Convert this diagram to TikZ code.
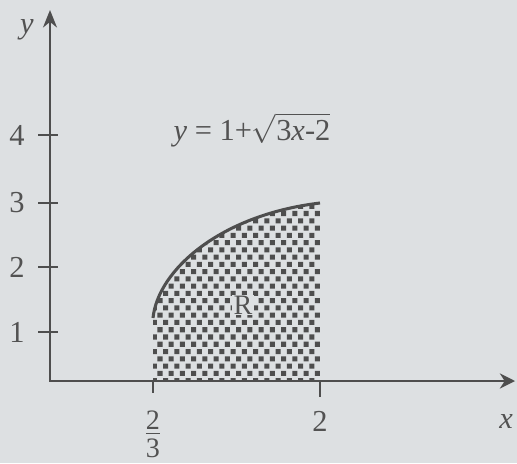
\documentclass[tikz,border=0pt]{standalone}
\usepackage{amsmath}
\usepackage{fontspec}
\setmainfont{Liberation Serif}
\usetikzlibrary{arrows.meta,patterns,positioning}
\definecolor{paper}{RGB}{221,224,226}
\definecolor{ink}{RGB}{78,78,78}
\definecolor{inktext}{RGB}{82,82,82}
\pgfdeclarepatternformonly{squaredots}{\pgfqpoint{-1pt}{-1pt}}{\pgfqpoint{11pt}{14pt}}{\pgfqpoint{9.6pt}{12.4pt}}{%
    \pgfpathrectangle{\pgfqpoint{0pt}{0pt}}{\pgfqpoint{4.3pt}{4.3pt}}
    \pgfpathrectangle{\pgfqpoint{4.8pt}{6.2pt}}{\pgfqpoint{4.3pt}{4.3pt}}
    \pgfusepath{fill}}
\begin{document}
\begin{tikzpicture}[x=0.03cm,y=0.03cm,
        axis/.style={ink,line width=1.6pt},
        lbl/.style={inktext,font=\fontsize{26}{28}\selectfont}]
        \fill[paper] (0,0) rectangle (517,463);
        \useasboundingbox (0,0) rectangle (517,463);
        \coordinate (O) at (50,82);
        \coordinate (X) at (515,82);
        \coordinate (Y) at (50,453);
        \coordinate (A) at (153,82);
        \coordinate (B) at (320,82);
        \coordinate (C) at (153,145);
        \coordinate (D) at (320,260);
        \fill[pattern=squaredots,pattern color=ink] (A) -- (C) .. controls (158,193) and (220,248) .. (D) -- (B) -- cycle;
        \draw[ink,line width=2.6pt] (C) .. controls (158,193) and (220,248) .. (D);
        \draw[axis,{Stealth[length=15pt,width=12pt]}-{Stealth[length=13pt,width=13pt]}] (Y) -- (O) -- (X);
        \foreach \h [count=\i] in {131,196,260,328}{%
        \node[lbl] (t\i) at (17,\h) {\i};
        \draw[axis] (38,\h) -- (58,\h);
        }
        \draw[axis] (A) -- ++(0,-12);
        \draw[axis] (B) -- ++(0,-16);
        \node[lbl,font=\fontsize{24}{26}\selectfont,align=center,inner sep=0pt] (xa) at (153,29) {\underline{2}\\[-2pt]3};
        \node[lbl] (xb) at (320,42) {2};
        \node[lbl] (xl) at (506,41) {\textit{x}};
        \node[lbl] (yl) at (27,433) {\textit{y}};
        \node[lbl,anchor=base] (eq) at (252,323) {\textit{y} = 1+$\sqrt{\text{3\textit{x}-2}}$};
        \node[lbl,font=\fontsize{24}{26}\selectfont,fill=paper,inner sep=1pt] (R) at (243,158) {R};
    \end{tikzpicture}
\end{document}
